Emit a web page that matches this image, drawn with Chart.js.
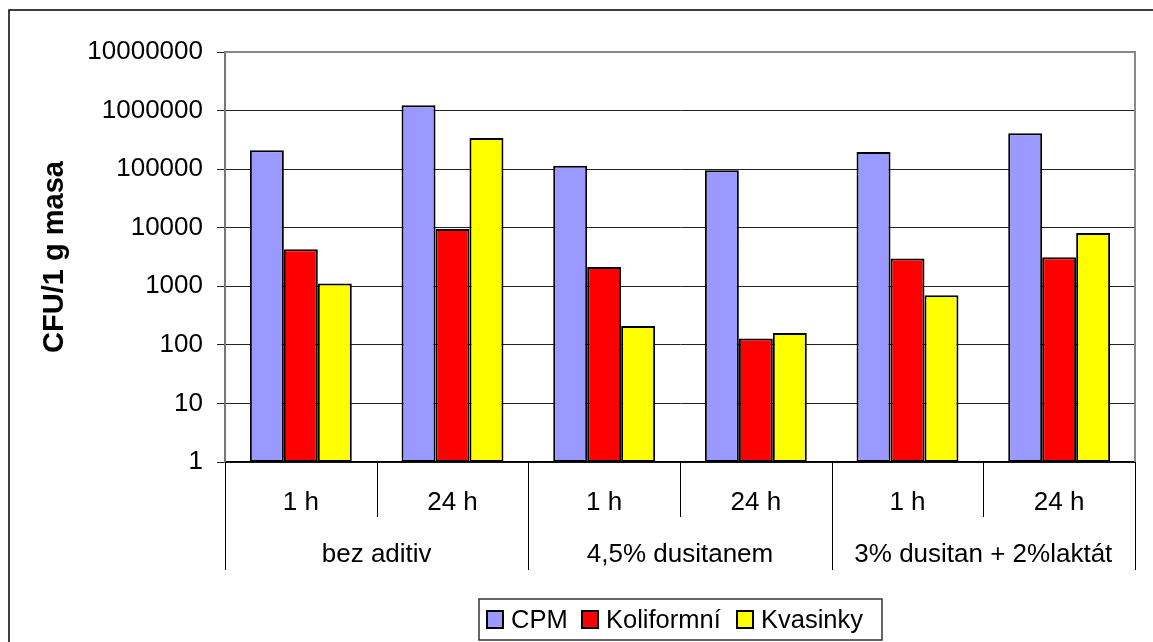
<!DOCTYPE html>
<html>
<head>
<meta charset="utf-8">
<script src="https://cdn.jsdelivr.net/npm/chart.js@4"></script>
<style>
  html, body { margin: 0; padding: 0; background: #fff; }
  canvas { display: block; }
</style>
</head>
<body>
<canvas id="c" width="1153" height="642"></canvas>
<script>
// ---- data ----
const hours = ['1 h', '24 h', '1 h', '24 h', '1 h', '24 h'];
const groups = ['bez aditiv', '4,5% dusitanem', '3% dusitan + 2%laktát'];
const seriesNames = ['CPM', 'Koliformní', 'Kvasinky'];
const cpm = [210000, 1230000, 114000, 96000, 197000, 412000];
const koliformni = [4300, 9500, 2140, 128, 2970, 3130];
const kvasinky = [1120, 340000, 210, 160, 700, 8100];
const yTicks = [1, 10, 100, 1000, 10000, 100000, 1000000, 10000000];
const yTitle = 'CFU/1 g masa';

const colors = ['#9999FF', '#FF0000', '#FFFF00'];
const FONT = "'Liberation Sans', Arial, sans-serif";

const decor = {
  id: 'decor',
  beforeDraw(chart) {
    const ctx = chart.ctx;
    ctx.save();
    ctx.fillStyle = '#fff';
    ctx.fillRect(0, 0, chart.width, chart.height);
    ctx.strokeStyle = '#000';
    ctx.lineWidth = 1.5;
    ctx.strokeRect(9, 10, 1300, 800);
    ctx.restore();
  },
  afterDraw(chart) {
    const ctx = chart.ctx;
    const a = chart.chartArea;
    const xs = chart.scales.x;
    const n = hours.length;
    const w = (a.right - a.left) / n;
    ctx.save();
    // plot border top/right
    ctx.strokeStyle = '#888';
    ctx.lineWidth = 2;
    ctx.beginPath();
    ctx.moveTo(a.left, a.top);
    ctx.lineTo(a.right, a.top);
    ctx.lineTo(a.right, a.bottom);
    ctx.stroke();
    // category separators
    ctx.strokeStyle = '#000';
    ctx.lineWidth = 1;
    for (let i = 0; i <= n; i++) {
      const x = Math.round(xs.getPixelForValue(Math.min(i, n - 1)) + (i === n ? w / 2 : -w / 2)) + 0.5;
      ctx.beginPath();
      ctx.moveTo(x, a.bottom);
      ctx.lineTo(x, i % 2 === 0 ? 570 : 517);
      ctx.stroke();
    }
    // hour labels
    ctx.fillStyle = '#000';
    ctx.textAlign = 'center';
    ctx.textBaseline = 'alphabetic';
    ctx.font = '26px ' + FONT;
    for (let i = 0; i < n; i++) {
      ctx.fillText(hours[i], xs.getPixelForValue(i), 510);
    }
    // group labels
    for (let g = 0; g < groups.length; g++) {
      const cx = (xs.getPixelForValue(g * 2) + xs.getPixelForValue(g * 2 + 1)) / 2;
      ctx.fillText(groups[g], cx, 562);
    }
    // legend
    const lx = 479, ly = 599, lw = 403, lh = 41;
    ctx.strokeStyle = '#333';
    ctx.lineWidth = 1.5;
    ctx.strokeRect(lx, ly, lw, lh);
    const swX = [487, 582, 737];
    ctx.textAlign = 'left';
    ctx.font = '25.5px ' + FONT;
    for (let s = 0; s < seriesNames.length; s++) {
      ctx.fillStyle = colors[s];
      ctx.fillRect(swX[s], 611, 16, 17);
      ctx.lineWidth = 2;
      ctx.strokeStyle = '#000';
      ctx.strokeRect(swX[s], 611, 16, 17);
      ctx.fillStyle = '#000';
      ctx.fillText(seriesNames[s], swX[s] + 24, 628);
    }
    ctx.restore();
  }
};

new Chart(document.getElementById('c'), {
  type: 'bar',
  data: {
    labels: hours,
    datasets: [
      { label: seriesNames[0], data: cpm, backgroundColor: colors[0] },
      { label: seriesNames[1], data: koliformni, backgroundColor: colors[1] },
      { label: seriesNames[2], data: kvasinky, backgroundColor: colors[2] }
    ].map(d => Object.assign(d, { borderColor: '#000', borderWidth: 2, borderSkipped: false }))
  },
  options: {
    responsive: false,
    animation: false,
    devicePixelRatio: 1,
    layout: { padding: { top: 52, right: 18, bottom: 0, left: 0 } },
    categoryPercentage: 0.672,
    barPercentage: 1,
    plugins: {
      legend: { display: false },
      tooltip: { enabled: false }
    },
    scales: {
      x: {
        type: 'category',
        grid: { display: false, drawTicks: false },
        ticks: { display: false },
        border: { display: true, color: '#000', width: 1.5 },
        afterFit(scale) { scale.height = 180; }
      },
      y: {
        type: 'logarithmic',
        min: 1,
        max: 10000000,
        afterBuildTicks(scale) { scale.ticks = yTicks.map(v => ({ value: v })); },
        ticks: {
          autoSkip: false,
          padding: 14,
          color: '#000',
          font: { family: FONT, size: 26 },
          callback: (v) => String(v)
        },
        grid: { color: '#222', lineWidth: 1, tickLength: 8, drawTicks: true },
        border: { display: true, color: '#777', width: 2 },
        title: {
          display: true,
          text: yTitle,
          color: '#000',
          font: { family: FONT, size: 29, weight: 'bold' },
          padding: { top: 38, bottom: 0 }
        },
        afterFit(scale) { scale.width = 225; }
      }
    }
  },
  plugins: [decor]
});
</script>
</body>
</html>
